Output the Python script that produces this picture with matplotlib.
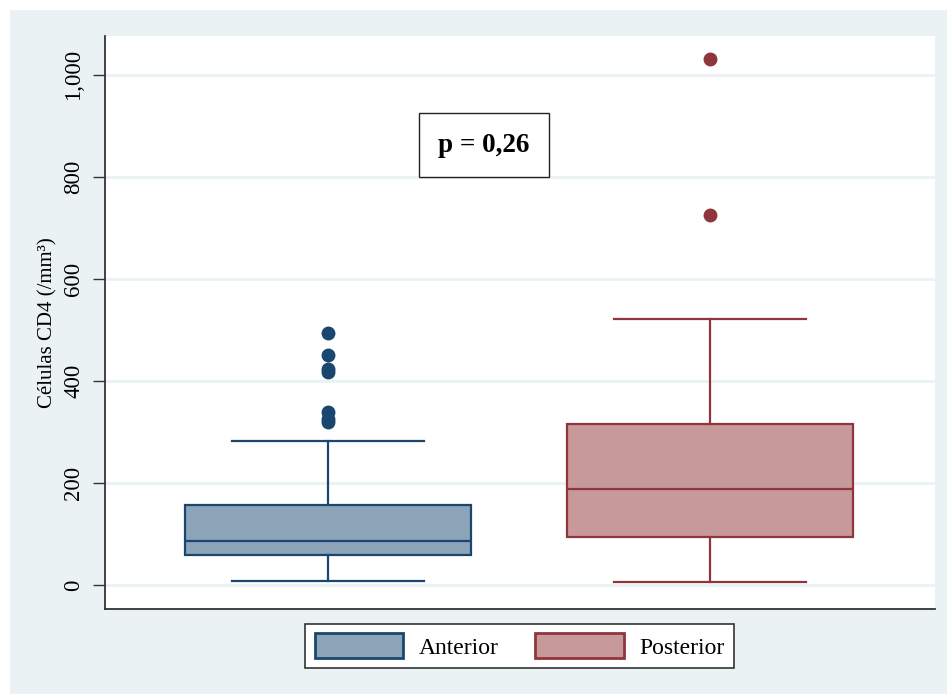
import matplotlib.pyplot as plt
from matplotlib.patches import Patch, Rectangle

plt.rcParams['font.family'] = ['Liberation Serif', 'DejaVu Serif']

# Resumo dos grupos (quartis, bigodes e valores atípicos)
groups = ['Anterior', 'Posterior']
q1 = [59, 94]
median = [86, 188]
q3 = [157, 316]
whisker_low = [8, 6]
whisker_high = [282, 522]
outliers = [[494, 450, 424, 418, 339, 326, 320], [1031, 725]]
yticks = [0, 200, 400, 600, 800, 1000]
ytick_labels = ['0', '200', '400', '600', '800', '1,000']
p_text = 'p = 0,26'

edge_colors = ['#1a476f', '#90353b']
fill_colors = ['#8da3b7', '#c8999b']
bg = '#eaf2f3'

fig = plt.figure(figsize=(9.47, 6.94), dpi=100, facecolor='white')
fig.patches.append(Rectangle((10 / 947, 0), 1, 684 / 694, transform=fig.transFigure,
                             facecolor=bg, edgecolor='none', zorder=-10))
ax = fig.add_axes([105 / 947, 85 / 694, 830 / 947, 573 / 694])

stats = []
for i in range(2):
    stats.append(dict(q1=q1[i], med=median[i], q3=q3[i], whislo=whisker_low[i],
                      whishi=whisker_high[i], fliers=outliers[i], label=groups[i]))

for i, st in enumerate(stats):
    c = edge_colors[i]
    ax.bxp([st], positions=[i + 1], widths=0.749, patch_artist=True,
           showcaps=True,
           boxprops=dict(facecolor=fill_colors[i], edgecolor=c, linewidth=1.6),
           medianprops=dict(color=c, linewidth=1.6),
           whiskerprops=dict(color=c, linewidth=1.6),
           capprops=dict(color=c, linewidth=1.6),
           capwidths=0.503,
           flierprops=dict(marker='o', markerfacecolor=c, markeredgecolor=c, markersize=9))

ax.set_xlim(0.416, 2.589)
ax.set_ylim(-47, 1076)
ax.set_yticks(yticks)
ax.set_yticklabels(ytick_labels, rotation=90, va='center', fontsize=16.5)
ax.set_xticks([])
ax.tick_params(axis='y', length=9, width=1, color='#333333', pad=6)
ax.grid(axis='y', color=bg, linewidth=2)
ax.set_axisbelow(True)
for s in ['top', 'right']:
    ax.spines[s].set_visible(False)
for s in ['left', 'bottom']:
    ax.spines[s].set_color('#333333')
    ax.spines[s].set_linewidth(1.3)
ax.set_ylabel('Células CD4 (/mm³)', fontsize=15, labelpad=4)

ax.text(1.408, 862, p_text, ha='center', va='center', fontsize=19.5, fontweight='bold',
        bbox=dict(boxstyle='square,pad=0.72', facecolor='white', edgecolor='#222222', linewidth=1))

handles = [Patch(facecolor=fill_colors[i], edgecolor=edge_colors[i], linewidth=2, label=groups[i])
           for i in range(2)]
leg = fig.legend(handles=handles, loc='center', bbox_to_anchor=(519.5 / 947, 1 - 646 / 694),
                 ncol=2, fontsize=17, frameon=True, fancybox=False, edgecolor='#333333',
                 framealpha=1, handlelength=3.75, handleheight=1.2, handletextpad=0.65,
                 columnspacing=1.55, borderpad=0.42, borderaxespad=0)
leg.get_frame().set_linewidth(1.2)

fig.savefig('out.png', dpi=100)
